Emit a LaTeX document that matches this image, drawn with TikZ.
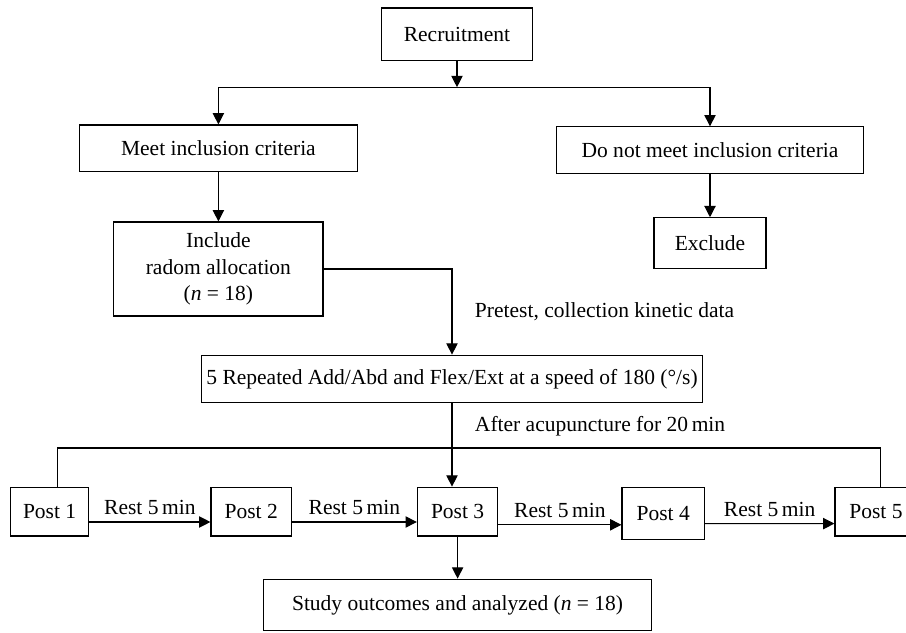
\documentclass[tikz,border=0pt]{standalone}
\usepackage{fontspec}
\setmainfont{Liberation Serif}
\usetikzlibrary{arrows.meta}
\tikzstyle{normalBox} = [shape=rectangle, draw=black, text=black, thick,
	align=center, fill=white]
\tikzstyle{normalArrow} = [thick, -{Triangle[length=8pt, width=8pt]}, draw=black]
\tikzstyle{normalLine} = [thick, draw=black]
\tikzstyle{PostBox} = [normalBox, minimum width=2.01cm, minimum height=1.22cm]
\tikzstyle{noteText} = [text=black, anchor=west]

\begin{document}
\begin{tikzpicture}[node distance=2.9cm, font=\fontsize{15.3}{19}\selectfont]
  \useasboundingbox (0,0) rectangle (22.65,-15.825);
  \node (RECR) [normalBox, minimum width=3.79cm, minimum height=1.32cm] at (11.425,-0.86) {Recruitment};
  \node (MEET) [normalBox, minimum width=6.96cm, minimum height=1.17cm, below of=RECR, xshift=-5.965cm, yshift=0.05cm] {Meet inclusion criteria};
  \node (NOMEET) [normalBox, minimum width=7.66cm, minimum height=1.175cm, below of=RECR, xshift=6.325cm] {Do not meet inclusion criteria};
  \node (INCL) [normalBox, minimum width=5.23cm, minimum height=2.35cm, below of=MEET, yshift=-0.115cm] {Include\\radom allocation\\(\textit{n} = 18)};
  \node (EXCL) [normalBox, minimum width=2.8cm, minimum height=1.27cm, node distance=2.32cm, below of=NOMEET] {Exclude};
  \node (REP) [normalBox, minimum width=12.34cm, minimum height=1.18cm, below of=INCL, xshift=5.84cm, yshift=0.155cm] {5 Repeated Add/Abd and Flex/Ext at a speed of 180 (°/s)};
  \node (POST3) [PostBox, node distance=3.32cm, below of=REP, xshift=0.14cm] {Post 3};
  \node (POST2) [PostBox, node distance=5.16cm, left of=POST3] {Post 2};
  \node (POST1) [PostBox, node distance=5.04cm, left of=POST2, minimum width=1.96cm] {Post 1};
  \node (POST4) [PostBox, node distance=5.14cm, right of=POST3, yshift=-0.05cm, minimum width=2.06cm, minimum height=1.3cm] {Post 4};
  \node (POST5) [PostBox, node distance=5.32cm, right of=POST4, yshift=0.05cm, minimum width=2.05cm] {Post 5};
  \node (STUDY) [normalBox, minimum width=9.7cm, minimum height=1.29cm, node distance=2.335cm, below of=POST3] {Study outcomes and analyzed (\textit{n} = 18)};

  \node (PRETXT) [noteText] at (11.75,-7.8) {Pretest, collection kinetic data};
  \node (AFTTXT) [noteText] at (11.75,-10.65) {After acupuncture for 20\,min};

  \coordinate (SPLIT) at (11.425,-2.18);
  \coordinate (BUSL) at (1.44,-11.2);
  \coordinate (BUSR) at (22.02,-11.2);

  \draw [normalArrow] (RECR) -- (SPLIT);
  \draw [normalArrow] (SPLIT) -| (MEET);
  \draw [normalArrow] (SPLIT) -| (NOMEET);
  \draw [normalArrow] (MEET) -- (INCL);
  \draw [normalArrow] (NOMEET) -- (EXCL);
  \draw [normalArrow] (INCL) -| (REP);
  \draw [normalArrow] (REP) -- (REP.south |- POST3.north);
  \draw [normalLine] (BUSL |- POST1.north) -- (BUSL) -- (BUSR) -- (BUSR |- POST5.north);
  \draw [normalArrow] ([yshift=-0.26cm]POST1.east) -- node (REST1) [above, yshift=1.5pt] {Rest 5\,min} ([yshift=-0.26cm]POST2.west);
  \draw [normalArrow] ([yshift=-0.26cm]POST2.east) -- node (REST2) [above, yshift=1.5pt] {Rest 5\,min} ([yshift=-0.26cm]POST3.west);
  \draw [normalArrow] ([yshift=-0.33cm]POST3.east) -- node (REST3) [above, yshift=1.5pt] {Rest 5\,min} ([yshift=-0.28cm]POST4.west);
  \draw [normalArrow] ([yshift=-0.25cm]POST4.east) -- node (REST4) [above, yshift=1.5pt] {Rest 5\,min} ([yshift=-0.30cm]POST5.west);
  \draw [normalArrow] (POST3) -- (STUDY);

\end{tikzpicture}
\end{document}
